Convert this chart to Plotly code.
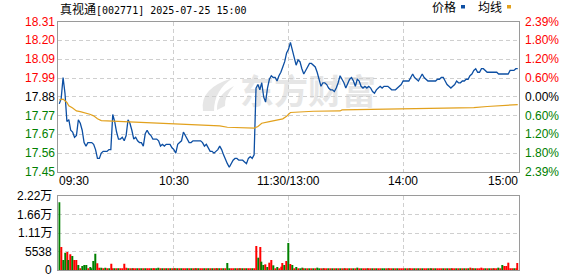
import plotly.graph_objects as go

W, H = 578, 276

# ---------------- data ----------------
title_name = "真视通"
title_rest = "[002771] 2025-07-25 15:00"
prev_close = 17.88
limit_pct = 2.39

price_tick_text = ["18.31", "18.20", "18.09", "17.99", "17.88", "17.77", "17.67", "17.56", "17.45"]
pct_tick_text = ["2.39%", "1.80%", "1.20%", "0.60%", "0.00%", "0.60%", "1.20%", "1.80%", "2.39%"]
tick_side = [1, 1, 1, 1, 0, -1, -1, -1, -1]

time_labels = ["09:30", "10:30", "11:30/13:00", "14:00", "15:00"]
time_label_minutes = [0, 60, 120, 180, 240]

price = [
    17.84, 17.87, 17.99, 17.90, 17.74, 17.75, 17.69, 17.68, 17.65, 17.66,
    17.75, 17.73, 17.69, 17.62, 17.60, 17.62, 17.62, 17.62, 17.61, 17.58,
    17.53, 17.53, 17.56, 17.57, 17.57, 17.57, 17.58, 17.58, 17.78, 17.74,
    17.68, 17.64, 17.64, 17.65, 17.63, 17.66, 17.75, 17.73, 17.69, 17.64,
    17.65, 17.63, 17.62, 17.62, 17.60, 17.67, 17.69, 17.67, 17.66, 17.64,
    17.64, 17.64, 17.63, 17.60, 17.61, 17.60, 17.61, 17.61, 17.61, 17.59,
    17.58, 17.56, 17.61, 17.62, 17.63, 17.68, 17.66, 17.64, 17.62, 17.62,
    17.63, 17.63, 17.63, 17.63, 17.63, 17.62, 17.60, 17.61, 17.59, 17.57,
    17.57, 17.56, 17.57, 17.58, 17.60, 17.58, 17.55, 17.52, 17.50, 17.48,
    17.50, 17.52, 17.53, 17.53, 17.52, 17.52, 17.52, 17.51, 17.50, 17.53,
    17.54, 17.53, 17.55, 17.93, 17.95, 17.92, 17.96, 17.88, 17.85, 17.93,
    17.98, 18.00, 17.99, 17.99, 17.97, 18.00, 18.02, 18.05, 18.08, 18.13,
    18.15, 18.19, 18.14, 18.09, 18.06, 18.09, 18.08, 18.04, 18.01, 18.03,
    18.05, 18.07, 18.07, 18.06, 18.05, 18.02, 17.97, 17.94, 17.96, 17.96,
    17.95, 17.93, 17.92, 17.92, 17.91, 17.93, 17.96, 18.00, 17.98, 17.96,
    17.93, 17.96, 17.98, 17.99, 17.97, 17.94, 17.98, 17.97, 17.94, 17.93,
    17.94, 17.93, 17.94, 17.93, 17.91, 17.90, 17.92, 17.93, 17.94, 17.93,
    17.94, 17.94, 17.94, 17.93, 17.92, 17.92, 17.92, 17.93, 17.94, 17.95,
    17.97, 17.97, 17.97, 17.97, 17.99, 18.01, 17.99, 17.98, 17.97, 17.99,
    18.01, 17.99, 17.98, 17.97, 17.97, 17.97, 17.97, 17.97, 17.98, 17.98,
    17.99, 17.99, 17.97, 17.95, 17.94, 17.93, 17.94, 17.95, 17.97, 17.96,
    17.96, 17.97, 17.97, 17.98, 17.98, 18.00, 18.01, 18.03, 18.04, 18.02,
    18.02, 18.04, 18.04, 18.03, 18.02, 18.02, 18.02, 18.02, 18.02, 18.02,
    18.01, 18.01, 18.01, 18.01, 18.01, 18.01, 18.03, 18.03, 18.03, 18.04,
    18.04,
]

avg_minutes = [0, 2, 4, 5, 7, 9, 11, 13, 16, 18, 20, 22, 26, 31, 38, 44, 54, 60,
               67, 75, 84, 88, 96, 102, 104, 106, 110, 114, 117, 119, 121, 133,
               147, 148, 164, 178, 196, 217, 224, 232, 240]
avg_price = [17.863, 17.867, 17.848, 17.829, 17.816, 17.800, 17.796, 17.791, 17.781,
             17.772, 17.755, 17.745, 17.743, 17.739, 17.736, 17.732, 17.730, 17.726,
             17.720, 17.717, 17.715, 17.707, 17.705, 17.702, 17.711, 17.730, 17.739,
             17.749, 17.755, 17.770, 17.791, 17.798, 17.800, 17.806, 17.810, 17.812,
             17.814, 17.819, 17.825, 17.830, 17.836]

volume = [
    20400, 6900, 3000, 5200, 5400, 3000, 4700, 4200, 3000, 3000,
    1500, 400, 1200, 1500, 1500, 400, 900, 400, 2700, 4900,
    2000, 700, 700, 400, 700, 400, 400, 1900, 300, 300,
    300, 300, 300, 300, 1900, 700, 300, 300, 300, 300,
    300, 300, 300, 300, 300, 300, 300, 300, 300, 300,
    300, 300, 700, 300, 300, 300, 300, 300, 300, 300,
    300, 300, 300, 300, 300, 300, 300, 300, 300, 300,
    300, 300, 300, 300, 300, 300, 300, 300, 300, 300,
    300, 300, 300, 300, 300, 300, 300, 300, 2100, 300,
    300, 300, 300, 300, 300, 300, 300, 300, 300, 300,
    300, 300, 300, 7200, 3700, 6900, 2500, 1500, 1700, 900,
    2200, 3000, 1400, 400, 900, 400, 1000, 2100, 1500, 2700,
    8100, 1800, 1500, 400, 900, 400, 400, 700, 300, 300,
    300, 300, 300, 300, 300, 700, 300, 300, 300, 300,
    300, 300, 300, 300, 300, 300, 300, 300, 300, 300,
    300, 300, 300, 300, 300, 300, 700, 300, 300, 300,
    300, 300, 300, 300, 300, 300, 300, 300, 300, 300,
    300, 300, 300, 300, 300, 300, 300, 300, 300, 300,
    300, 300, 300, 300, 300, 300, 300, 300, 300, 300,
    300, 300, 300, 300, 300, 300, 300, 300, 300, 300,
    300, 300, 300, 300, 300, 300, 300, 300, 300, 300,
    300, 300, 300, 300, 300, 700, 300, 300, 300, 300,
    300, 700, 300, 300, 300, 300, 300, 300, 300, 300,
    700, 300, 1500, 1200, 1200, 2200, 300, 300, 300, 300,
    2100,
]
# 1 = up minute (red bar), 0 = down minute (green bar)
vol_up = ("0100101011" "0100010000" "1101010110" "1011110101" "1010101101"
          "1001010101" "0101011010" "1010110101" "0101010100" "1101010101"
          "1011010010" "1101011101" "0101010010" "1010100101" "1010101010"
          "1101010101" "1011010110" "0101101011" "1010110101" "0110101011"
          "1010101101" "0101010101" "1110101011" "0101111101" "1")

vol_tick_vals = [0, 5538, 11076, 16614, 22152]
vol_tick_text = ["0", "5538", "1.11万", "1.66万", "2.22万"]

legend_names = ["价格", "均线"]

# ---------------- style ----------------
BLUE = "#0d4fa3"
ORANGE = "#e2a11d"
RED = "#ff0000"
GREEN = "#008000"
GRID = "#cfcfcf"
BORDER = "#9a9a9a"
FONT = "Liberation Sans, Noto Sans CJK SC, sans-serif"


def px(x):
    return x / W


def py(y):
    return 1 - y / H


lo = prev_close * (1 - limit_pct / 100)
hi = prev_close * (1 + limit_pct / 100)
levels = [prev_close * (1 + k * limit_pct / 400) for k in range(4, -5, -1)]
minutes = list(range(len(price)))

fig = go.Figure()
fig.add_trace(go.Scatter(x=minutes, y=price, mode="lines",
                         line=dict(color=BLUE, width=1.3), hoverinfo="skip",
                         xaxis="x", yaxis="y", showlegend=False))
fig.add_trace(go.Scatter(x=avg_minutes, y=avg_price, mode="lines",
                         line=dict(color=ORANGE, width=1.2), hoverinfo="skip",
                         xaxis="x", yaxis="y", showlegend=False))
bar_colors = [RED if c == "1" else GREEN for c in vol_up]
fig.add_trace(go.Bar(x=minutes, y=volume, marker=dict(color=bar_colors, line=dict(width=0)),
                     xaxis="x2", yaxis="y2", showlegend=False, hoverinfo="skip"))

x_dom = [px(58.3), px(518.7)]
axis_common = dict(showline=True, mirror=True, linecolor=BORDER, linewidth=1,
                   showgrid=True, gridcolor=GRID, griddash="4px,3px", gridwidth=1,
                   zeroline=False, showticklabels=False, ticks="", fixedrange=True)

fig.update_layout(
    width=W, height=H,
    margin=dict(l=0, r=0, t=0, b=0),
    paper_bgcolor="white", plot_bgcolor="rgba(0,0,0,0)",
    font=dict(family=FONT, size=12, color="#000000"),
    bargap=0.45,
    xaxis=dict(domain=x_dom, range=[-0.5, len(price) - 0.5], tickvals=[60, 120, 180],
               anchor="y", **axis_common),
    yaxis=dict(domain=[py(172), py(21.7)], range=[lo, hi], tickvals=levels,
               anchor="x", **axis_common),
    xaxis2=dict(domain=x_dom, range=[-0.5, len(price) - 0.5], tickvals=[60, 120, 180],
                anchor="y2", **axis_common),
    yaxis2=dict(domain=[py(270), py(196.3)], range=[0, vol_tick_vals[-1]],
                tickvals=vol_tick_vals, anchor="x2", **axis_common),
)

ann = []
# title: CJK name at 12px, code/time in a narrow monospace
title_html = (f"<span style='font-family:Noto Sans CJK SC;font-size:12px'>{title_name}</span>"
              f"<span style='font-family:DejaVu Sans Mono;font-size:10px'>{title_rest}</span>")
ann.append(dict(text=title_html, x=px(59), y=py(8.5), xref="paper", yref="paper",
                xanchor="left", yanchor="middle", showarrow=False, borderpad=0))
# legend
ann.append(dict(text=legend_names[0], x=px(431.5), y=py(7.5), xref="paper", yref="paper",
                xanchor="left", yanchor="middle", showarrow=False, borderpad=0))
ann.append(dict(text=legend_names[1], x=px(477.5), y=py(7.5), xref="paper", yref="paper",
                xanchor="left", yanchor="middle", showarrow=False, borderpad=0))
# price and percent labels
for lv, t, p, s in zip(levels, price_tick_text, pct_tick_text, tick_side):
    col = RED if s > 0 else (GREEN if s < 0 else "#000000")
    ann.append(dict(text=t, x=px(55.5), y=lv, xref="paper", yref="y",
                    xanchor="right", yanchor="middle", showarrow=False, borderpad=0,
                    font=dict(color=col)))
    ann.append(dict(text=p, x=px(523.5), y=lv, xref="paper", yref="y",
                    xanchor="left", yanchor="middle", showarrow=False, borderpad=0,
                    font=dict(color=col)))
# volume labels
for v, t in zip(vol_tick_vals, vol_tick_text):
    ann.append(dict(text=t, x=px(53), y=v, xref="paper", yref="y2",
                    xanchor="right", yanchor="middle", showarrow=False, borderpad=0))
# time labels
for m, t in zip(time_label_minutes, time_labels):
    if m == time_label_minutes[0]:
        xv, xa = -0.5, "left"
    elif m == time_label_minutes[-1]:
        xv, xa = len(price) - 0.5, "right"
    else:
        xv, xa = m, "center"
    ann.append(dict(text=t, x=xv, y=py(181), xref="x", yref="paper",
                    xanchor=xa, yanchor="middle", showarrow=False, borderpad=0))
fig.update_layout(annotations=ann)

shapes = []
# legend swatches
shapes.append(dict(type="rect", xref="paper", yref="paper", x0=px(461), x1=px(465),
                   y0=py(8.5), y1=py(5), fillcolor=BLUE, line=dict(width=0)))
shapes.append(dict(type="rect", xref="paper", yref="paper", x0=px(507), x1=px(511),
                   y0=py(8.5), y1=py(5), fillcolor=ORANGE, line=dict(width=0)))
# watermark
shapes.append(dict(type="rect", xref="paper", yref="paper", x0=px(236), x1=px(380),
                   y0=py(112), y1=py(76), line=dict(width=0), fillcolor="rgba(0,0,0,0)",
                   layer="below",
                   label=dict(text="东方财富", textposition="middle center",
                              font=dict(size=34, color="#e6e6e6",
                                        family="Noto Sans CJK SC", weight="bold"))))
icon = (f"M {px(203)},{py(111)} Q {px(199)},{py(88)} {px(233)},{py(78)} "
        f"Q {px(214)},{py(90)} {px(214)},{py(111)} Z")
icon2 = (f"M {px(217)},{py(110)} Q {px(216)},{py(95)} {px(234)},{py(86)} "
         f"Q {px(224)},{py(97)} {px(225)},{py(106)} Z")
shapes.append(dict(type="path", xref="paper", yref="paper", path=icon,
                   fillcolor="#e6e6e6", line=dict(width=0), layer="below"))
shapes.append(dict(type="path", xref="paper", yref="paper", path=icon2,
                   fillcolor="#e6e6e6", line=dict(width=0), layer="below"))
fig.update_layout(shapes=shapes)

fig.write_html("out.html")
